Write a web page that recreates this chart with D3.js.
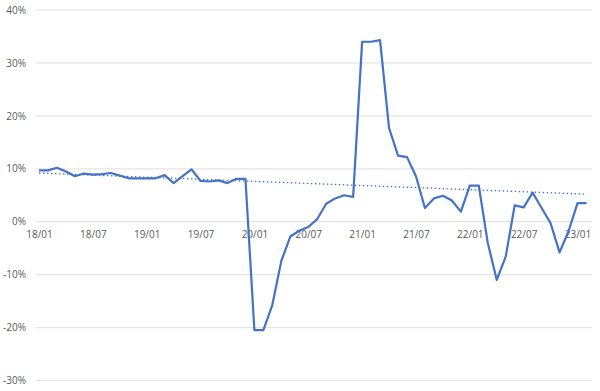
<!DOCTYPE html>
<html>
<head>
  <meta charset="UTF-8">
  <title>Monthly growth</title>
  <script src="https://d3js.org/d3.v7.min.js"></script>
  <style>
    body { margin: 0; background: #fff; }
    .tick text { font-family: "Open Sans", "Liberation Sans", sans-serif; font-size: 10px; fill: #595959; }
    .grid line { stroke: #e4e4e4; stroke-width: 1.2; }
  </style>
</head>
<body>
  <div id="chart"></div>
  <script>
    // months 18/01 .. 23/02
    const months = [
      "18/01","18/02","18/03","18/04","18/05","18/06","18/07","18/08","18/09","18/10","18/11","18/12",
      "19/01","19/02","19/03","19/04","19/05","19/06","19/07","19/08","19/09","19/10","19/11","19/12",
      "20/01","20/02","20/03","20/04","20/05","20/06","20/07","20/08","20/09","20/10","20/11","20/12",
      "21/01","21/02","21/03","21/04","21/05","21/06","21/07","21/08","21/09","21/10","21/11","21/12",
      "22/01","22/02","22/03","22/04","22/05","22/06","22/07","22/08","22/09","22/10","22/11","22/12",
      "23/01","23/02"
    ];
    // growth in %
    const growth = [
      9.7, 9.7, 10.2, 9.5, 8.6, 9.1, 8.9, 9.0, 9.2, 8.7, 8.2, 8.2,
      8.2, 8.2, 8.8, 7.3, 8.6, 9.9, 7.7, 7.6, 7.8, 7.3, 8.1, 8.1,
      -20.5, -20.5, -15.7, -7.4, -2.8, -1.7, -1.0, 0.5, 3.4, 4.4, 5.0, 4.7,
      34.0, 34.0, 34.3, 17.7, 12.5, 12.2, 8.6, 2.6, 4.4, 4.9, 4.0, 1.9,
      6.8, 6.8, -4.0, -11.0, -6.6, 3.1, 2.7, 5.5, 2.6, -0.3, -5.8, -1.8,
      3.5, 3.5
    ];
    // linear trendline, first and last month
    const trendMonths = ["18/01", "23/02"];
    const trendValues = [9.2, 5.2];

    const xTicks = ["18/01","18/07","19/01","19/07","20/01","20/07","21/01","21/07","22/01","22/07","23/01"];
    const yTicks = [-30, -20, -10, 0, 10, 20, 30, 40];

    const width = 600, height = 391;

    const svg = d3.select("#chart")
      .append("svg")
      .attr("width", width)
      .attr("height", height);

    const x = d3.scalePoint()
      .domain(months)
      .range([39, 586.5]);

    const y = d3.scaleLinear()
      .domain([-30, 40])
      .range([380.5, 10]);

    // gridlines
    svg.append("g")
      .attr("class", "grid")
      .selectAll("line")
      .data(yTicks)
      .enter().append("line")
      .attr("x1", 36)
      .attr("x2", 592)
      .attr("y1", d => y(d))
      .attr("y2", d => y(d));

    // y axis
    const yAxis = svg.append("g")
      .attr("transform", "translate(36,0)")
      .call(d3.axisLeft(y).tickValues(yTicks).tickSize(0).tickPadding(10).tickFormat(d => d + "%"));
    yAxis.select(".domain").remove();

    // x axis on the zero line
    const xAxis = svg.append("g")
      .attr("transform", `translate(0,${y(0)})`)
      .call(d3.axisBottom(x).tickValues(xTicks).tickSize(0).tickPadding(9));
    xAxis.select(".domain").remove();

    // trendline
    const trend = trendMonths.map((m, i) => ({ m: m, v: trendValues[i] }));
    svg.append("path")
      .datum(trend)
      .attr("fill", "none")
      .attr("stroke", "#4472c4")
      .attr("stroke-width", 1.3)
      .attr("stroke-dasharray", "1.5,2.5")
      .attr("d", d3.line().x(d => x(d.m)).y(d => y(d.v)));

    // main line
    const series = months.map((m, i) => ({ m: m, v: growth[i] }));
    svg.append("path")
      .datum(series)
      .attr("fill", "none")
      .attr("stroke", "#4472c4")
      .attr("stroke-width", 2.2)
      .attr("stroke-linejoin", "round")
      .attr("d", d3.line().x(d => x(d.m)).y(d => y(d.v)));
  </script>
</body>
</html>
